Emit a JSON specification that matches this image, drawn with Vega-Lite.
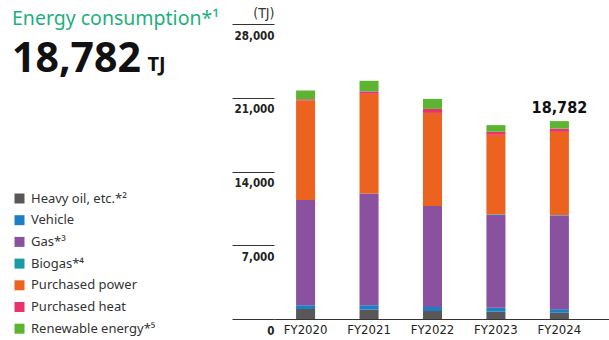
{
  "$schema": "https://vega.github.io/schema/vega-lite/v6.json",
  "width": 335,
  "height": 295,
  "autosize": {"type": "none"},
  "padding": {"left": 274, "top": 24, "right": 0, "bottom": 21},
  "background": "white",
  "config": {"view": {"stroke": null}, "font": "Noto Sans"},
  "title": {
    "text": "Energy consumption*¹",
    "subtitle": "18,782",
    "anchor": "start",
    "frame": "group",
    "font": "Noto Sans",
    "fontSize": 19.5,
    "fontWeight": "normal",
    "color": "#1db07e",
    "subtitleFont": "Noto Sans",
    "subtitleFontSize": 41,
    "subtitleFontWeight": "bold",
    "subtitleColor": "#111111",
    "subtitlePadding": 11,
    "offset": 0,
    "dx": -262,
    "dy": 75
  },
  "datasets": {
    "energy": [
      {"year": "FY2020", "type": "Heavy oil, etc.*²", "value": 950},
      {"year": "FY2020", "type": "Vehicle", "value": 350},
      {"year": "FY2020", "type": "Gas*³", "value": 10000},
      {"year": "FY2020", "type": "Biogas*⁴", "value": 0},
      {"year": "FY2020", "type": "Purchased power", "value": 9430},
      {"year": "FY2020", "type": "Purchased heat", "value": 127},
      {"year": "FY2020", "type": "Renewable energy*⁵", "value": 823},
      {"year": "FY2021", "type": "Heavy oil, etc.*²", "value": 885},
      {"year": "FY2021", "type": "Vehicle", "value": 420},
      {"year": "FY2021", "type": "Gas*³", "value": 10600},
      {"year": "FY2021", "type": "Biogas*⁴", "value": 0},
      {"year": "FY2021", "type": "Purchased power", "value": 9470},
      {"year": "FY2021", "type": "Purchased heat", "value": 220},
      {"year": "FY2021", "type": "Renewable energy*⁵", "value": 1013},
      {"year": "FY2022", "type": "Heavy oil, etc.*²", "value": 760},
      {"year": "FY2022", "type": "Vehicle", "value": 380},
      {"year": "FY2022", "type": "Gas*³", "value": 9590},
      {"year": "FY2022", "type": "Biogas*⁴", "value": 0},
      {"year": "FY2022", "type": "Purchased power", "value": 8830},
      {"year": "FY2022", "type": "Purchased heat", "value": 380},
      {"year": "FY2022", "type": "Renewable energy*⁵", "value": 950},
      {"year": "FY2023", "type": "Heavy oil, etc.*²", "value": 695},
      {"year": "FY2023", "type": "Vehicle", "value": 380},
      {"year": "FY2023", "type": "Gas*³", "value": 8800},
      {"year": "FY2023", "type": "Biogas*⁴", "value": 60},
      {"year": "FY2023", "type": "Purchased power", "value": 7550},
      {"year": "FY2023", "type": "Purchased heat", "value": 285},
      {"year": "FY2023", "type": "Renewable energy*⁵", "value": 633},
      {"year": "FY2024", "type": "Heavy oil, etc.*²", "value": 590},
      {"year": "FY2024", "type": "Vehicle", "value": 340},
      {"year": "FY2024", "type": "Gas*³", "value": 8900},
      {"year": "FY2024", "type": "Biogas*⁴", "value": 50},
      {"year": "FY2024", "type": "Purchased power", "value": 7880},
      {"year": "FY2024", "type": "Purchased heat", "value": 310},
      {"year": "FY2024", "type": "Renewable energy*⁵", "value": 712}
    ],
    "total": [
      {"year": "FY2024", "total": 18782, "label": "18,782"}
    ]
  },
  "layer": [
    {
      "data": {"name": "energy"},
      "transform": [
        {"calculate": "indexof(['Heavy oil, etc.*²','Vehicle','Gas*³','Biogas*⁴','Purchased power','Purchased heat','Renewable energy*⁵'], datum.type)", "as": "k"}
      ],
      "mark": {"type": "bar"},
      "encoding": {
        "x": {
          "field": "year", "type": "nominal",
          "scale": {"paddingInner": 0.7, "paddingOuter": 0.49, "align": 0.355},
          "axis": {
            "title": "TJ",
            "titleFont": "Noto Sans",
            "titleFontSize": 20,
            "titleFontWeight": "bold",
            "titleColor": "#111111",
            "titleAlign": "left",
            "titleBaseline": "alphabetic",
            "titleAnchor": "start",
            "titleX": -127,
            "titleY": -249,
            "labelAngle": 0,
            "labelFont": "DejaVu Sans Condensed",
            "labelFontSize": 13,
            "labelColor": "#222222",
            "labelPadding": 4,
            "ticks": false,
            "domain": true,
            "domainColor": "#333333",
            "domainWidth": 1
          }
        },
        "y": {
          "aggregate": "sum", "field": "value", "type": "quantitative",
          "stack": "zero",
          "scale": {"domain": [0, 28000], "nice": false},
          "axis": {
            "values": [0, 7000, 14000, 21000, 28000],
            "format": ",d",
            "grid": false,
            "domain": false,
            "ticks": true,
            "tickSize": 42,
            "tickColor": "#333333",
            "tickWidth": 1,
            "labelPadding": -42,
            "labelAlign": "right",
            "labelBaseline": "middle",
            "labelOffset": 12,
            "labelFont": "DejaVu Sans Condensed",
            "labelFontSize": 11.5,
            "labelFontWeight": "bold",
            "labelColor": "#222222",
            "title": "(TJ)",
            "titleAngle": 0,
            "titleAlign": "right",
            "titleBaseline": "alphabetic",
            "titleX": 0,
            "titleY": -7,
            "titleFont": "DejaVu Sans Condensed",
            "titleFontSize": 14,
            "titleFontWeight": "normal",
            "titleColor": "#333333"
          }
        },
        "color": {
          "field": "type", "type": "nominal",
          "scale": {
            "domain": ["Heavy oil, etc.*²", "Vehicle", "Gas*³", "Biogas*⁴", "Purchased power", "Purchased heat", "Renewable energy*⁵"],
            "range": ["#595757", "#1d7ec6", "#8a529e", "#1a9aa4", "#ec6320", "#e8336f", "#5cb531"]
          },
          "legend": {
            "title": null,
            "orient": "none",
            "legendX": -261,
            "legendY": 168,
            "direction": "vertical",
            "symbolType": "square",
            "symbolSize": 100,
            "symbolStrokeWidth": 0,
            "labelFont": "Noto Sans",
            "labelFontSize": 13,
            "labelColor": "#333333",
            "labelOffset": 5,
            "rowPadding": 7.7
          }
        },
        "order": {"field": "k", "type": "quantitative", "sort": "ascending"}
      }
    },
    {
      "data": {"name": "total"},
      "mark": {"type": "text", "dy": -8, "baseline": "alphabetic", "font": "DejaVu Sans Condensed", "fontSize": 16, "fontWeight": "bold", "color": "#111111"},
      "encoding": {
        "x": {"field": "year", "type": "nominal"},
        "y": {"field": "total", "type": "quantitative"},
        "text": {"field": "label"}
      }
    }
  ]
}
